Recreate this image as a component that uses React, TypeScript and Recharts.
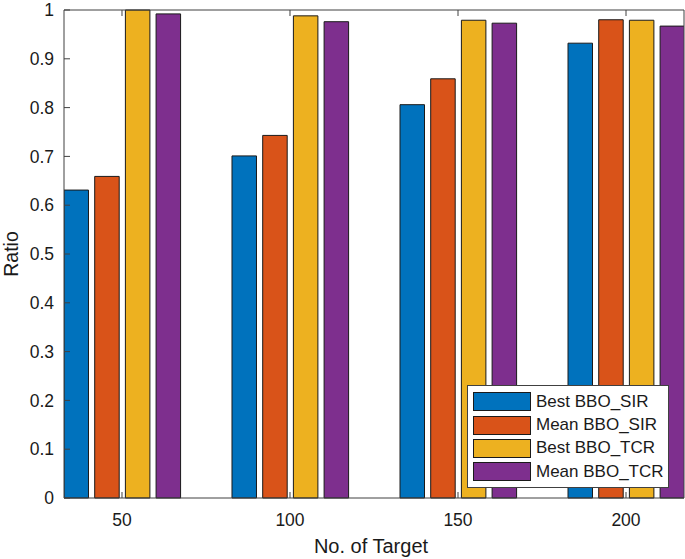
import React from 'react';
import { BarChart, Bar, XAxis, YAxis, Legend } from 'recharts';

// No. of targets on the x axis, ratios per method
const targets = [50, 100, 150, 200];
const bestSIR = [0.631, 0.701, 0.806, 0.932];
const meanSIR = [0.659, 0.743, 0.859, 0.98];
const bestTCR = [1.0, 0.988, 0.979, 0.979];
const meanTCR = [0.992, 0.976, 0.973, 0.967];
const yTicks = [0, 0.1, 0.2, 0.3, 0.4, 0.5, 0.6, 0.7, 0.8, 0.9, 1];

const series = [
  { key: 'bestSIR', name: 'Best BBO_SIR', color: '#0072BD' },
  { key: 'meanSIR', name: 'Mean BBO_SIR', color: '#D95319' },
  { key: 'bestTCR', name: 'Best BBO_TCR', color: '#EDB120' },
  { key: 'meanTCR', name: 'Mean BBO_TCR', color: '#7E2F8E' },
];

const data = targets.map((n, i) => ({
  n,
  bestSIR: bestSIR[i],
  meanSIR: meanSIR[i],
  bestTCR: bestTCR[i],
  meanTCR: meanTCR[i],
}));

const FONT = '"Liberation Sans", Arial, Helvetica, sans-serif';
const AXIS = '#404040';
const TEXT = '#1a1a1a';
const PLOT_LEFT = 64;
const PLOT_RIGHT = 684;
const PLOT_TOP = 10;
const PLOT_BOTTOM = 498;
const TICK = 6;

const LeftTick = (props: any) => {
  const y = props.payload.coordinate;
  return (
    <g>
      <line x1={PLOT_LEFT} x2={PLOT_LEFT + TICK} y1={y} y2={y} stroke={AXIS} />
      <text x={PLOT_LEFT - 10} y={y} dy="0.35em" textAnchor="end" fontSize={17.5} fill={TEXT} fontFamily={FONT}>
        {String(props.payload.value)}
      </text>
    </g>
  );
};

const RightTick = (props: any) => {
  const y = props.payload.coordinate;
  return <line x1={PLOT_RIGHT - TICK} x2={PLOT_RIGHT} y1={y} y2={y} stroke={AXIS} />;
};

const BottomTick = (props: any) => {
  const x = props.payload.coordinate;
  return (
    <g>
      <line x1={x} x2={x} y1={PLOT_BOTTOM} y2={PLOT_BOTTOM - TICK} stroke={AXIS} />
      <text x={x} y={526} textAnchor="middle" fontSize={17.5} fill={TEXT} fontFamily={FONT}>
        {String(props.payload.value)}
      </text>
    </g>
  );
};

const TopTick = (props: any) => {
  const x = props.payload.coordinate;
  return <line x1={x} x2={x} y1={PLOT_TOP} y2={PLOT_TOP + TICK} stroke={AXIS} />;
};

const LegendBox = (props: any) => {
  const order = series.map((s) => s.name);
  const items = [...(props.payload || [])].sort(
    (a: any, b: any) => order.indexOf(a.value) - order.indexOf(b.value)
  );
  return (
    <div
      style={{
        width: 200,
        height: 97,
        border: `1px solid ${AXIS}`,
        background: '#fff',
        boxSizing: 'content-box',
        paddingTop: 4,
        fontFamily: FONT,
        fontSize: 17,
        color: TEXT,
      }}
    >
      {items.map((it: any) => (
        <div key={it.value} style={{ display: 'flex', alignItems: 'center', height: 23.4 }}>
          <div
            style={{
              width: 56,
              height: 17,
              marginLeft: 5,
              marginRight: 5,
              background: it.color,
              border: '1px solid #1a1a1a',
            }}
          />
          <span style={{ whiteSpace: 'nowrap' }}>{it.value}</span>
        </div>
      ))}
    </div>
  );
};

export default function App() {
  return (
    <div style={{ position: 'absolute', left: 0, top: 0, width: 685, height: 559, background: '#fff' }}>
      <BarChart
        width={685}
        height={559}
        data={data}
        margin={{ top: 9, right: 0, bottom: 0, left: 0 }}
        barGap={6.2}
        barCategoryGap={25}
      >
        {series.map((s) => (
          <Bar
            key={s.key}
            dataKey={s.key}
            name={s.name}
            xAxisId="b"
            yAxisId="l"
            fill={s.color}
            stroke="#1a1a1a"
            strokeWidth={1}
            barSize={24.5}
            isAnimationActive={false}
          />
        ))}
        <XAxis
          xAxisId="b"
          dataKey="n"
          type="number"
          domain={[32.74, 217.26]}
          allowDataOverflow
          ticks={targets}
          height={61}
          axisLine={{ stroke: AXIS }}
          tickLine={false}
          tickSize={0}
          tick={BottomTick}
          label={{
            content: () => (
              <text x={371} y={553} textAnchor="middle" fontSize={20} fill={TEXT} fontFamily={FONT}>
                No. of Target
              </text>
            ),
          }}
        />
        <XAxis
          xAxisId="t"
          dataKey="n"
          type="number"
          orientation="top"
          domain={[32.74, 217.26]}
          allowDataOverflow
          ticks={targets}
          height={1}
          axisLine={{ stroke: AXIS }}
          tickLine={false}
          tickSize={0}
          tick={TopTick}
        />
        <YAxis
          yAxisId="l"
          domain={[0, 1]}
          ticks={yTicks}
          width={64}
          axisLine={{ stroke: AXIS }}
          tickLine={false}
          tickSize={0}
          tick={LeftTick}
          interval={0}
          label={{
            content: () => (
              <text
                x={17.5}
                y={254}
                transform="rotate(-90 17.5 254)"
                textAnchor="middle"
                fontSize={19.5}
                fill={TEXT}
                fontFamily={FONT}
              >
                Ratio
              </text>
            ),
          }}
        />
        <YAxis
          yAxisId="r"
          orientation="right"
          domain={[0, 1]}
          ticks={yTicks}
          width={1}
          axisLine={{ stroke: AXIS }}
          tickLine={false}
          tickSize={0}
          tick={RightTick}
          interval={0}
        />
        <Legend
          layout="vertical"
          align="center"
          verticalAlign="middle"
          content={LegendBox}
          wrapperStyle={{ position: 'absolute', left: 467, top: 385, width: 202, height: 99 }}
        />
      </BarChart>
    </div>
  );
}
